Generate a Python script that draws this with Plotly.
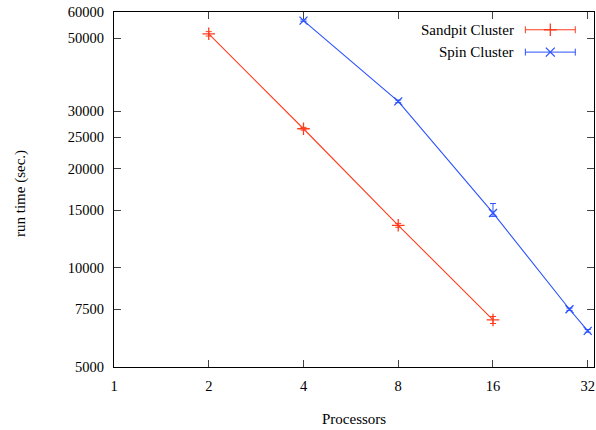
import numpy as np
import plotly.graph_objects as go

# ---- data ----
sandpit_procs = [2, 4, 8, 16]
sandpit_time = [51500, 26500, 13480, 6950]
sandpit_err = [800, 250, 180, 170]

spin_procs = [4, 8, 16, 28, 32]
spin_time = [56500, 32100, 14700, 7490, 6440]
spin_err_plus = [300, 300, 1000, 60, 60]
spin_err_minus = [300, 300, 350, 60, 60]

x_ticks = [1, 2, 4, 8, 16, 32]
y_ticks = [5000, 7500, 10000, 15000, 20000, 25000, 30000, 50000, 60000]

series_names = ["Sandpit Cluster", "Spin Cluster"]
RED = "#ff3c1e"
BLUE = "#2a52ff"
FONT = "Liberation Serif"

fig = go.Figure()

fig.add_trace(go.Scatter(
    x=sandpit_procs, y=sandpit_time, mode="lines+markers",
    line=dict(color=RED, width=1.1),
    marker=dict(symbol="cross-thin", size=9, line=dict(color=RED, width=1.3)),
    error_y=dict(type="data", array=sandpit_err, color=RED, thickness=1, width=3),
    showlegend=False))

fig.add_trace(go.Scatter(
    x=spin_procs, y=spin_time, mode="lines+markers",
    line=dict(color=BLUE, width=1.1),
    marker=dict(symbol="x-thin", size=8, line=dict(color=BLUE, width=1.3)),
    error_y=dict(type="data", symmetric=False, array=spin_err_plus,
                 arrayminus=spin_err_minus, color=BLUE, thickness=1, width=3),
    showlegend=False))

# ---- custom gnuplot-style legend (text left, sample right) ----
leg_x = 0.909
leg_half = 0.052
leg_ys = [0.950, 0.887]
for name, col, sym, ly in zip(series_names, [RED, BLUE], ["cross-thin", "x-thin"], leg_ys):
    fig.add_trace(go.Scatter(
        x=[leg_x], y=[ly], mode="markers", xaxis="x2", yaxis="y2",
        marker=dict(symbol=sym, size=9, line=dict(color=col, width=1.3), color=col),
        error_x=dict(type="constant", value=leg_half, color=col, thickness=1, width=3.5),
        showlegend=False, hoverinfo="skip"))
    fig.add_annotation(x=0.838, y=ly, xref="paper", yref="paper", text=name,
                       showarrow=False, xanchor="right", yanchor="middle",
                       font=dict(family=FONT, size=15, color="black"))

fig.add_annotation(x=0.5, y=-0.147, xref="paper", yref="paper", text="Processors",
                   showarrow=False, xanchor="center", yanchor="middle",
                   font=dict(family=FONT, size=15, color="black"))
fig.add_annotation(x=-0.196, y=0.49, xref="paper", yref="paper", text="run time (sec.)",
                   showarrow=False, textangle=-90, xanchor="center", yanchor="middle",
                   font=dict(family=FONT, size=15, color="black"))

axis_common = dict(showgrid=False, zeroline=False, showline=True, linecolor="black",
                   linewidth=1.2, mirror="ticks", ticks="inside", ticklen=7,
                   tickcolor="#444", tickwidth=1.2, automargin=False,
                   tickfont=dict(family=FONT, size=14.5, color="black"))

fig.update_layout(
    width=596, height=430,
    margin=dict(l=114, r=2, t=12, b=63),
    paper_bgcolor="white", plot_bgcolor="white",
    font=dict(family=FONT, size=15, color="black"),
    xaxis=dict(type="log", range=[0, np.log10(33.5)], tickvals=x_ticks,
               ticktext=[str(v) for v in x_ticks], ticklabelstandoff=5, **axis_common),
    yaxis=dict(type="log", range=[np.log10(5000), np.log10(60000)], tickvals=y_ticks,
               ticktext=[str(v) for v in y_ticks], ticklabelstandoff=6, **axis_common),
    xaxis2=dict(overlaying="x", range=[0, 1], visible=False),
    yaxis2=dict(overlaying="y", range=[0, 1], visible=False),
    showlegend=False,
)

fig.write_html("out.html", config={"displayModeBar": False},
               post_script="document.body.style.margin='0';")
